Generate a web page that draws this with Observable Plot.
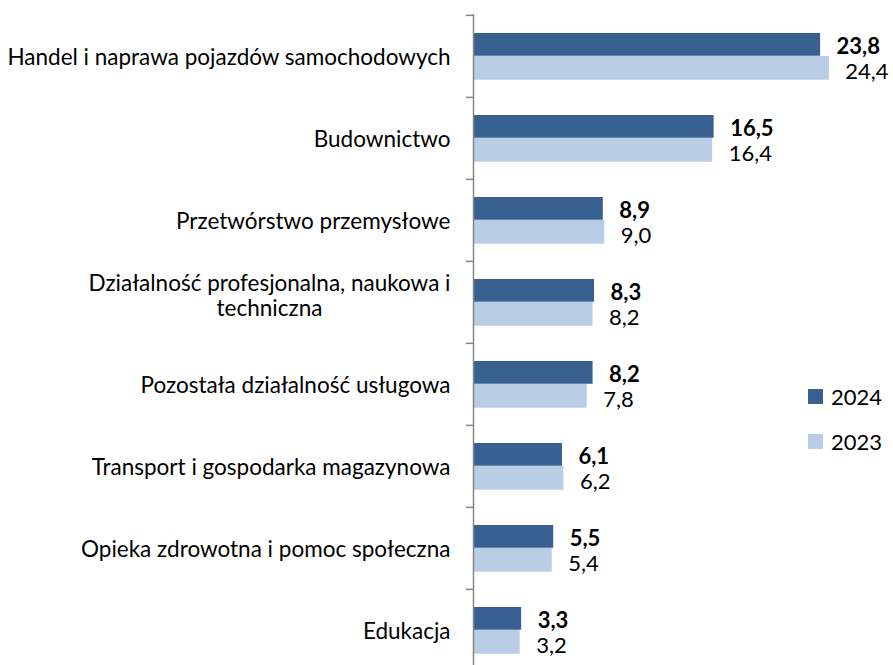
<!DOCTYPE html>
<html>
<head>
<meta charset="utf-8">
<script src="https://cdn.jsdelivr.net/npm/d3@7"></script>
<script src="https://cdn.jsdelivr.net/npm/@observablehq/plot@0.6"></script>
<style>
  html, body { margin: 0; padding: 0; background: #fff; overflow: hidden; }
  #wrap { position: relative; width: 893px; height: 665px; }
  #legend { position: absolute; left: 808px; top: 389px; font-family: Lato, sans-serif; font-size: 22px; color: #000; }
  .item { display: flex; align-items: center; height: 15px; margin-bottom: 30px; }
  .sw { width: 15px; height: 15px; margin-right: 8px; }
</style>
</head>
<body>
<div id="wrap"><div id="legend"></div></div>
<script>
const categories = [
  "Handel i naprawa pojazdów samochodowych",
  "Budownictwo",
  "Przetwórstwo przemysłowe",
  "Działalność profesjonalna, naukowa i techniczna",
  "Pozostała działalność usługowa",
  "Transport i gospodarka magazynowa",
  "Opieka zdrowotna i pomoc społeczna",
  "Edukacja"
];
const values2024 = [23.8, 16.5, 8.9, 8.3, 8.2, 6.1, 5.5, 3.3];
const values2023 = [24.4, 16.4, 9.0, 8.2, 7.8, 6.2, 5.4, 3.2];
const seriesNames = ["2024", "2023"];
const seriesColors = ["#386192", "#b9cde5"];

const d24 = categories.map((c, i) => ({cat: c, v: values2024[i]}));
const d23 = categories.map((c, i) => ({cat: c, v: values2023[i]}));
const fmt = v => v.toFixed(1).replace(".", ",");

const wrapped = "Działalność profesjonalna, naukowa i techniczna";
const singleCats = categories.filter(c => c !== wrapped);

const FONT = "Lato, sans-serif";
const step = (672 - 14) / 8;

const chart = Plot.plot({
  width: 893,
  height: 672,
  marginLeft: 473,
  marginRight: 0,
  marginTop: 14,
  marginBottom: 0,
  style: {fontFamily: FONT, background: "white"},
  x: {domain: [0, 28.8], axis: null},
  y: {domain: categories, axis: null, padding: 0},
  marks: [
    Plot.barX(d24, {y: "cat", x: "v", fill: seriesColors[0], insetTop: 18, insetBottom: step - 41}),
    Plot.barX(d23, {y: "cat", x: "v", fill: seriesColors[1], insetTop: 41, insetBottom: step - 65}),
    Plot.ruleX([0], {stroke: "#868686", strokeWidth: 1.5}),
    Plot.ruleY(categories, {y: d => d, x1: 0, x2: 0, insetRight: 7, dy: -step / 2, stroke: "#868686", strokeWidth: 1.5}),
    Plot.text(d24, {y: "cat", x: "v", text: d => fmt(d.v), dx: 16, dy: -10, textAnchor: "start", fontWeight: "bold", fontSize: 22, fill: "#000"}),
    Plot.text(d23, {y: "cat", x: "v", text: d => fmt(d.v), dx: 16, dy: 15, textAnchor: "start", fontSize: 22, fill: "#000"}),
    Plot.text(singleCats, {y: d => d, text: d => d, frameAnchor: "left", dx: -23, dy: 1, textAnchor: "end", fontSize: 22.5, fill: "#000"}),
    Plot.text([wrapped], {y: d => d, text: () => "Działalność profesjonalna, naukowa i\ntechniczna", frameAnchor: "left", dx: -204, dy: -7, textAnchor: "middle", lineHeight: 1.11, fontSize: 22.5, fill: "#000"})
  ]
});
document.getElementById("wrap").prepend(chart);

const legend = document.getElementById("legend");
seriesNames.forEach((n, i) => {
  const item = document.createElement("div");
  item.className = "item";
  const sw = document.createElement("div");
  sw.className = "sw";
  sw.style.background = seriesColors[i];
  const t = document.createElement("span");
  t.textContent = n;
  item.append(sw, t);
  legend.append(item);
});
</script>
</body>
</html>
